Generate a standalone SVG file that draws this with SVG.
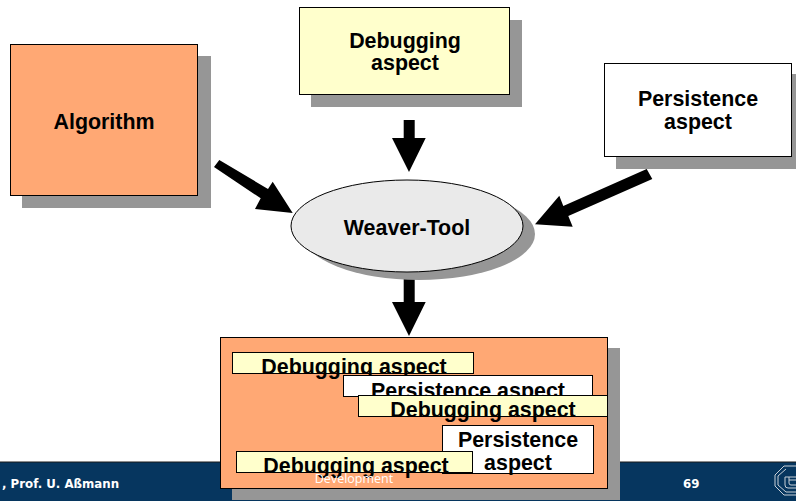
<svg xmlns="http://www.w3.org/2000/svg" width="796" height="501" viewBox="0 0 796 501">
<style>
.t{font-family:"Liberation Sans",Arial,sans-serif;font-weight:700;font-size:21.400px;fill:#000;text-anchor:middle}
.b{stroke:#000;stroke-width:1}
.s{fill:#969696}
.f{font-family:"DejaVu Sans",Verdana,sans-serif;font-weight:700;font-size:11.800px;fill:#fff}
</style>
<rect width="796" height="501" fill="#fff"/>
<g id="footer"><rect x="0" y="462" width="796" height="39" fill="#06365f"/><rect x="0" y="461.500" width="796" height="1" fill="#1a1a1a"/>
<text class="f" x="2" y="488">, Prof. U. Aßmann</text><text class="f" x="683" y="488">69</text>
<g fill="none" stroke="#c8d0d8" stroke-width="1"><path d="M784 466H796M784 466L775 475V486L784 495H796M786 469L778 476V485L786 492H796"/><path d="M785 477V485Q785 488 788 488H796M789 477V483Q789 485 791 485H796M785 477H796M789 480H796"/></g></g>
<g id="algorithm"><rect class="s" x="22" y="56" width="189" height="152"/><rect class="b" x="10.500" y="44.500" width="187" height="151" fill="#ffa874"/><text class="t" x="104" y="129">Algorithm</text></g>
<g id="debugging"><rect class="s" x="311" y="20" width="211" height="87"/><rect class="b" x="299.500" y="7.500" width="210" height="87" fill="#ffffcc"/><text class="t" x="405" y="48">Debugging</text><text class="t" x="405" y="70">aspect</text></g>
<g id="persistence"><rect class="s" x="616" y="74" width="180" height="95"/><rect class="b" x="604.500" y="63.500" width="187" height="93" fill="#fff"/><text class="t" x="698" y="106">Persistence</text><text class="t" x="698" y="129">aspect</text></g>
<g id="connectors" fill="#000"><polygon points="403.700,120 414.700,120 414.700,138 425.700,138 409,172 392,138 403.700,138"/><polygon points="403.700,277 414.700,277 414.700,302 425.700,302 409,336 392,302 403.700,302"/><polygon points="214,167 219.300,160 268,189 272.700,181.700 292.700,213 255,209 260.700,198.300"/><polygon points="646.700,169 652.300,179 568.300,216 572.700,226.700 535,224.300 559.300,195.700 563.300,206"/></g>
<g id="weaver"><ellipse class="s" cx="419" cy="234" rx="116" ry="46"/><ellipse class="b" cx="407" cy="226" rx="116" ry="46" fill="#eaeaea"/><text class="t" x="407" y="235">Weaver-Tool</text></g>
<g id="result"><rect class="s" x="232" y="348" width="388" height="152"/><rect class="b" x="220.500" y="337.500" width="387" height="151" fill="#ffa874"/></g>
<g id="woven-debugging-1"><rect class="b" x="232.500" y="352.500" width="241" height="21" fill="#ffffcc"/><text class="t" x="354" y="374">Debugging aspect</text></g>
<g id="woven-persistence-1"><rect class="b" x="343.500" y="375.500" width="249" height="21" fill="#fff"/><text class="t" x="468" y="398">Persistence aspect</text></g>
<g id="woven-debugging-2"><rect class="b" x="358.500" y="395.500" width="249" height="21" fill="#ffffcc"/><text class="t" x="483" y="417">Debugging aspect</text></g>
<g id="woven-persistence-2"><rect class="b" x="442.500" y="425.500" width="151" height="48" fill="#fff"/><text class="t" x="518" y="447">Persistence</text><text class="t" x="518" y="470">aspect</text></g>
<g id="woven-debugging-3"><rect class="b" x="236.500" y="451.500" width="236" height="21" fill="#ffffcc"/><text class="t" x="356" y="473">Debugging aspect</text></g>
<text x="354" y="483" font-family="'Open Sans','DejaVu Sans',sans-serif" font-size="12.500" fill="#fff" text-anchor="middle">Development</text>
</svg>
